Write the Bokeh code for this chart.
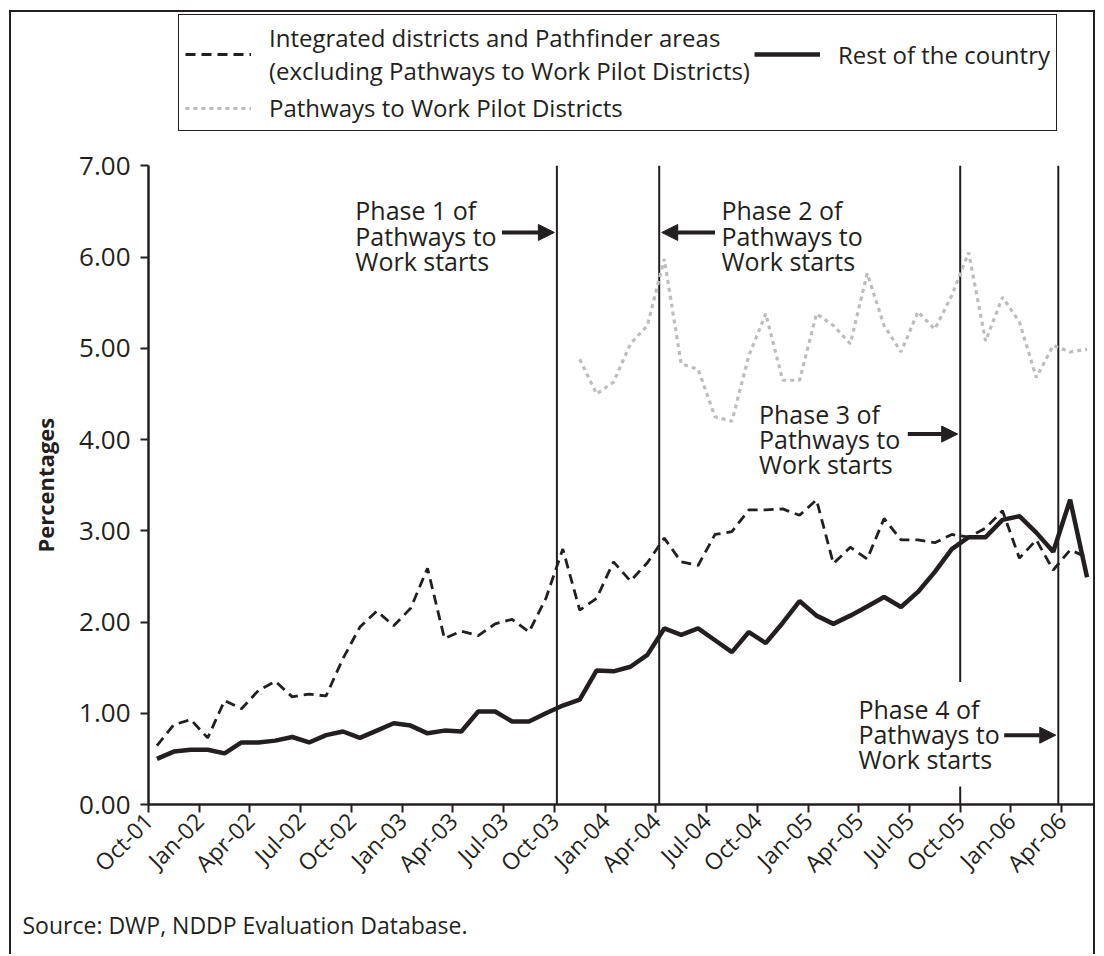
import math
from bokeh.plotting import figure
from bokeh.models import (Range1d, FixedTicker, NumeralTickFormatter, Legend, LegendItem,
                          Label, Arrow, NormalHead, Title)
from bokeh.embed import file_html
from bokeh.resources import INLINE

INK = "#231f20"
FONT = "Open Sans"

months = ["Oct-01", "Nov-01", "Dec-01",
          "Jan-02", "Feb-02", "Mar-02", "Apr-02", "May-02", "Jun-02", "Jul-02", "Aug-02", "Sep-02", "Oct-02", "Nov-02", "Dec-02",
          "Jan-03", "Feb-03", "Mar-03", "Apr-03", "May-03", "Jun-03", "Jul-03", "Aug-03", "Sep-03", "Oct-03", "Nov-03", "Dec-03",
          "Jan-04", "Feb-04", "Mar-04", "Apr-04", "May-04", "Jun-04", "Jul-04", "Aug-04", "Sep-04", "Oct-04", "Nov-04", "Dec-04",
          "Jan-05", "Feb-05", "Mar-05", "Apr-05", "May-05", "Jun-05", "Jul-05", "Aug-05", "Sep-05", "Oct-05", "Nov-05", "Dec-05",
          "Jan-06", "Feb-06", "Mar-06", "Apr-06", "May-06"]

tick_labels = ["Oct-01", "Jan-02", "Apr-02", "Jul-02", "Oct-02", "Jan-03", "Apr-03", "Jul-03", "Oct-03",
               "Jan-04", "Apr-04", "Jul-04", "Oct-04", "Jan-05", "Apr-05", "Jul-05", "Oct-05", "Jan-06", "Apr-06"]

integrated = [0.645, 0.875, 0.93, 0.73, 1.14, 1.05, 1.25, 1.35, 1.18, 1.21, 1.19, 1.60,
              1.945, 2.12, 1.96, 2.15, 2.59, 1.82, 1.90, 1.85, 1.98, 2.03, 1.89, 2.26,
              2.80, 2.13, 2.26, 2.66, 2.45, 2.65, 2.92, 2.66, 2.62, 2.96, 2.99, 3.23,
              3.23, 3.24, 3.17, 3.34, 2.64, 2.82, 2.69, 3.135, 2.90, 2.90, 2.87, 2.96,
              2.93, 3.03, 3.22, 2.70, 2.90, 2.57, 2.79, 2.71]

rest = [0.50, 0.58, 0.60, 0.60, 0.56, 0.68, 0.68, 0.70, 0.74, 0.68, 0.76, 0.80,
        0.73, 0.81, 0.89, 0.865, 0.78, 0.81, 0.80, 1.02, 1.02, 0.91, 0.91, 1.00,
        1.085, 1.15, 1.47, 1.46, 1.51, 1.64, 1.93, 1.86, 1.93, 1.80, 1.67, 1.89,
        1.77, 1.99, 2.23, 2.07, 1.98, 2.07, 2.17, 2.275, 2.165, 2.33, 2.55, 2.80,
        2.93, 2.93, 3.12, 3.16, 2.98, 2.77, 3.34, 2.49]

pilot = [None, None, None, None, None, None, None, None, None, None, None, None,
         None, None, None, None, None, None, None, None, None, None, None, None,
         None, 4.88, 4.50, 4.63, 5.05, 5.25, 5.98, 4.83, 4.77, 4.25, 4.20, 4.92,
         5.38, 4.65, 4.65, 5.38, 5.25, 5.05, 5.82, 5.25, 4.96, 5.40, 5.21, 5.58,
         6.05, 5.08, 5.56, 5.29, 4.68, 5.03, 4.96, 4.99]

y_ticks = [0, 1, 2, 3, 4, 5, 6, 7]
y_max = 7

# phase start positions (in month units from Oct-01)
phase_starts = [24.15, 30.2, 48.0, 53.8]
phase_text = ["Phase 1 of\nPathways to\nWork starts",
              "Phase 2 of\nPathways to\nWork starts",
              "Phase 3 of\nPathways to\nWork starts",
              "Phase 4 of\nPathways to\nWork starts"]

x = [i + 0.5 for i in range(len(months))]
pilot_vals = [float("nan") if v is None else v for v in pilot]
tick_pos = [months.index(t) for t in tick_labels]

# frame extends above the 7.00 line to hold the legend; axis is bounded to 0..7
p = figure(width=1086, height=944, output_backend="svg", toolbar_location=None,
           x_range=Range1d(0, 56), y_range=Range1d(0, 8.681), title=None,
           min_border_left=137, min_border_right=2, min_border_top=0, min_border_bottom=152)
p.styles = {"margin-left": "9px", "margin-top": "10px",
            "border-left": f"2px solid {INK}", "border-top": f"2px solid {INK}",
            "border-right": f"2px solid {INK}"}
p.outline_line_color = None
p.grid.visible = False
p.background_fill_color = "white"
p.border_fill_color = "white"

# axes
p.xaxis.ticker = FixedTicker(ticks=tick_pos)
p.xaxis.major_label_overrides = {tp: lab for tp, lab in zip(tick_pos, tick_labels)}
p.xaxis.major_label_orientation = math.pi / 4
p.yaxis.ticker = FixedTicker(ticks=y_ticks)
p.yaxis.bounds = (0, y_max)
p.yaxis.formatter = NumeralTickFormatter(format="0.00")
for ax in (p.xaxis[0], p.yaxis[0]):
    ax.axis_line_color = INK
    ax.axis_line_width = 2.5
    ax.major_tick_line_color = INK
    ax.major_tick_line_width = 2
    ax.major_tick_in = 0
    ax.major_tick_out = 8
    ax.minor_tick_line_color = None
    ax.major_label_text_font = FONT
    ax.major_label_text_color = INK
p.xaxis.major_label_text_font_size = "23px"
p.xaxis.major_label_standoff = 4
p.yaxis.major_label_text_font_size = "26px"
p.yaxis.major_label_standoff = 10

# y axis title, centred on the 0..7 part of the axis
ytitle = Title(text="Percentages", align="left", offset=252, vertical_align="top",
               text_font=FONT, text_font_size="22px", text_font_style="bold",
               text_color=INK, standoff=30)
p.add_layout(ytitle, "left")

# phase lines (from 0 to the top of the value axis)
p.segment(x0=phase_starts, y0=[0] * len(phase_starts), x1=phase_starts, y1=[y_max] * len(phase_starts),
          line_color=INK, line_width=2)

# data lines
r_pilot = p.line(x, pilot_vals, line_color="#bdbdbd", line_width=3.2, line_dash="4 4")
r_int = p.line(x, integrated, line_color=INK, line_width=2.8, line_dash="10 6")
r_rest = p.line(x, rest, line_color=INK, line_width=4.5)

# phase labels and arrows
lab_pos = [(12.23, 6.236), (33.88, 6.236), (36.1, 4.005), (41.39, 0.77)]
for k, (txt, (lx, ly)) in enumerate(zip(phase_text, lab_pos)):
    lab = Label(x=lx, y=ly, text=txt, text_font=FONT, text_font_size="25px", text_color=INK,
                text_align="left", text_baseline="middle", text_line_height=0.74)
    if k == 3:
        lab.background_fill_color = "white"
        lab.padding = 10
    p.add_layout(lab)

arrows = [(20.9, 24.0, 6.27), (33.5, 30.35, 6.27), (44.9, 47.85, 4.06), (50.6, 53.65, 0.76)]
for xs, xe, ya in arrows:
    p.add_layout(Arrow(end=NormalHead(size=16, fill_color=INK, line_color=INK),
                       x_start=xs, y_start=ya, x_end=xe, y_end=ya,
                       line_color=INK, line_width=4))

legend = Legend(items=[
    LegendItem(label="Integrated districts and Pathfinder areas\n(excluding Pathways to Work Pilot Districts)", renderers=[r_int]),
    LegendItem(label="Rest of the country", renderers=[r_rest]),
    LegendItem(label="Pathways to Work Pilot Districts", renderers=[r_pilot]),
], orientation="horizontal", ncols=2, location=(30, 673))
legend.border_line_color = INK
legend.border_line_alpha = 1
legend.border_line_width = 1.5
legend.background_fill_color = "white"
legend.background_fill_alpha = 1
legend.padding = 6
legend.spacing = 4
legend.margin = 0
legend.label_standoff = 18
legend.glyph_width = 66
legend.glyph_height = 22
legend.label_text_font = FONT
legend.label_text_font_size = "24px"
legend.label_text_color = INK
legend.label_text_line_height = 0.77
p.add_layout(legend, "center")

src = Title(text="Source: DWP, NDDP Evaluation Database.", align="left", offset=-126,
            text_font=FONT, text_font_size="23px", text_font_style="normal",
            text_color=INK, standoff=28)
p.add_layout(src, "below")

open("out.html", "w").write(file_html(p, INLINE))
